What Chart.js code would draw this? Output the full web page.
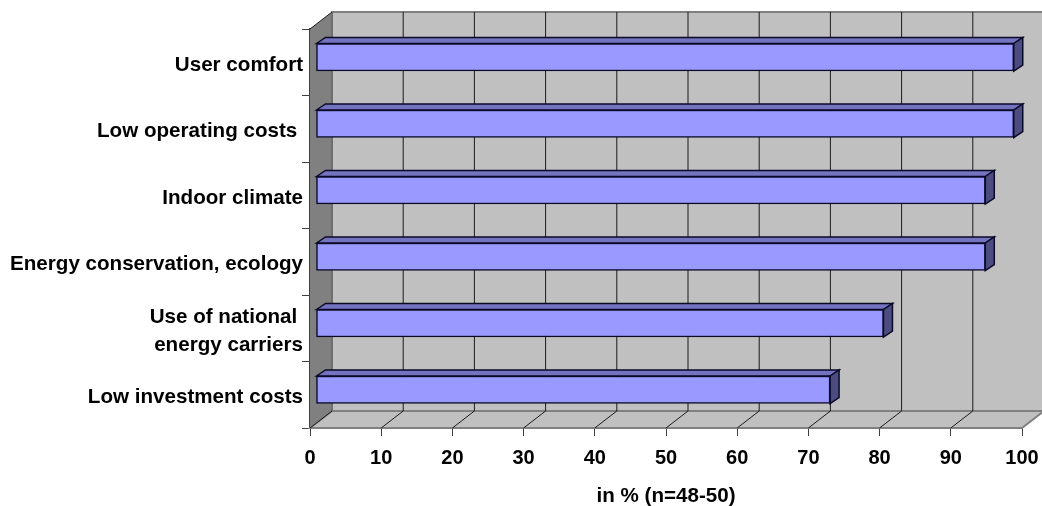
<!DOCTYPE html>
<html>
<head>
<meta charset="utf-8">
<style>html,body{margin:0;padding:0;background:#fff}canvas{display:block}</style>
<script src="https://cdn.jsdelivr.net/npm/chart.js@4"></script>
</head>
<body>
<canvas id="c" width="1042" height="506"></canvas>
<script>
const categories = ['User comfort', 'Low operating costs ', 'Indoor climate', 'Energy conservation, ecology', ['Use of national ', 'energy carriers'], 'Low investment costs'];
const values = [98, 98, 94, 94, 79.7, 72.2];
const xTicks = [0, 10, 20, 30, 40, 50, 60, 70, 80, 90, 100];
const axisTitle = 'in % (n=48-50)';

const fontFamily = '"Liberation Sans", Arial, sans-serif';
const WALL = {dx: 22, dy: 17};
const BAR_SHIFT = {dx: 6, dy: -5};
const BAR_DEPTH = {dx: 9, dy: -6};

const scene = {
  id: 'scene',
  beforeDatasetsDraw(chart) {
    const {ctx, scales: {x, y}} = chart;
    const l = x.left, r = x.right, t = y.top, b = y.bottom;
    const poly = (pts, fill, stroke, lw) => {
      ctx.beginPath();
      pts.forEach((p, i) => i ? ctx.lineTo(p[0], p[1]) : ctx.moveTo(p[0], p[1]));
      ctx.closePath();
      if (fill) { ctx.fillStyle = fill; ctx.fill(); }
      if (stroke) { ctx.strokeStyle = stroke; ctx.lineWidth = lw || 1; ctx.stroke(); }
    };
    const line = (x0, y0, x1, y1, c, lw) => {
      ctx.beginPath(); ctx.moveTo(x0, y0); ctx.lineTo(x1, y1);
      ctx.strokeStyle = c; ctx.lineWidth = lw || 1; ctx.stroke();
    };
    const {dx, dy} = WALL;
    ctx.save();
    // back wall
    poly([[l + dx, t - dy], [r + dx, t - dy], [r + dx, b - dy], [l + dx, b - dy]], '#c0c0c0', '#808080', 2);
    // floor
    poly([[l, b], [r, b], [r + dx, b - dy], [l + dx, b - dy]], '#c0c0c0', '#808080', 2);
    // side wall
    poly([[l, t], [l + dx, t - dy], [l + dx, b - dy], [l, b]], '#808080', null);
    line(l + dx, t - dy, l + dx, b - dy, '#6e6e6e', 2);
    // gridlines on the back wall and floor
    xTicks.forEach(v => {
      const px = x.getPixelForValue(v);
      if (v > 0 && v < 100) {
        line(px + dx, t - dy, px + dx, b - dy, '#1a1a1a', 1);
      }
      if (v < 100) line(px, b, px + dx, b - dy, '#1a1a1a', 1);
    });
    line(l, t, l + dx, t - dy, '#1a1a1a', 1);
    // bar depth faces
    chart.getDatasetMeta(0).data.forEach(el => {
      const p = el.getProps(['x', 'y', 'base', 'height'], true);
      const x0 = p.base + BAR_SHIFT.dx, x1 = p.x + BAR_SHIFT.dx;
      const y0 = p.y - p.height / 2 + BAR_SHIFT.dy, y1 = p.y + p.height / 2 + BAR_SHIFT.dy;
      const d = BAR_DEPTH;
      poly([[x0, y0], [x0 + d.dx, y0 + d.dy], [x1 + d.dx, y0 + d.dy], [x1, y0]], '#7373bf', '#0a0a28', 1.5);
      poly([[x1, y0], [x1 + d.dx, y0 + d.dy], [x1 + d.dx, y1 + d.dy], [x1, y1]], '#4c4c80', '#0a0a28', 1.5);
    });
    ctx.restore();
    ctx.save();
    ctx.translate(BAR_SHIFT.dx, BAR_SHIFT.dy);
  },
  afterDatasetsDraw(chart) {
    chart.ctx.restore();
  }
};

new Chart(document.getElementById('c'), {
  type: 'bar',
  data: {
    labels: categories,
    datasets: [{
      data: values,
      backgroundColor: '#9999ff',
      borderColor: '#0a0a28',
      borderWidth: 1.5,
      borderSkipped: false,
      barThickness: 27.5,
      clip: false
    }]
  },
  options: {
    indexAxis: 'y',
    responsive: false,
    animation: false,
    layout: {padding: {top: 29, right: 20, left: 0, bottom: 0}},
    plugins: {legend: {display: false}, tooltip: {enabled: false}, title: {display: false}},
    scales: {
      x: {
        min: 0, max: 100,
        afterFit(s) { s.height = 78; s.paddingRight = 0; s.paddingLeft = 0; },
        afterBuildTicks(s) { s.ticks = xTicks.map(v => ({value: v})); },
        border: {display: true, color: '#404040', width: 2},
        grid: {drawOnChartArea: false, drawTicks: true, tickLength: 8, color: '#404040', lineWidth: 1},
        ticks: {autoSkip: false, maxRotation: 0, padding: 10, color: '#000', font: {family: fontFamily, size: 20, weight: 'bold'}},
        title: {display: true, text: axisTitle, color: '#000', padding: {top: 0, bottom: -3}, font: {family: fontFamily, size: 20.6, weight: 'bold'}}
      },
      y: {
        afterFit(s) { s.width = 310; },
        border: {display: true, color: '#404040', width: 2},
        grid: {drawOnChartArea: false, drawTicks: true, tickLength: 8, color: '#404040', lineWidth: 1},
        ticks: {autoSkip: false, padding: -1, labelOffset: 3, color: '#000', font: {family: fontFamily, size: 20.6, weight: 'bold', lineHeight: 1.32}}
      }
    }
  },
  plugins: [scene]
});
</script>
</body>
</html>
